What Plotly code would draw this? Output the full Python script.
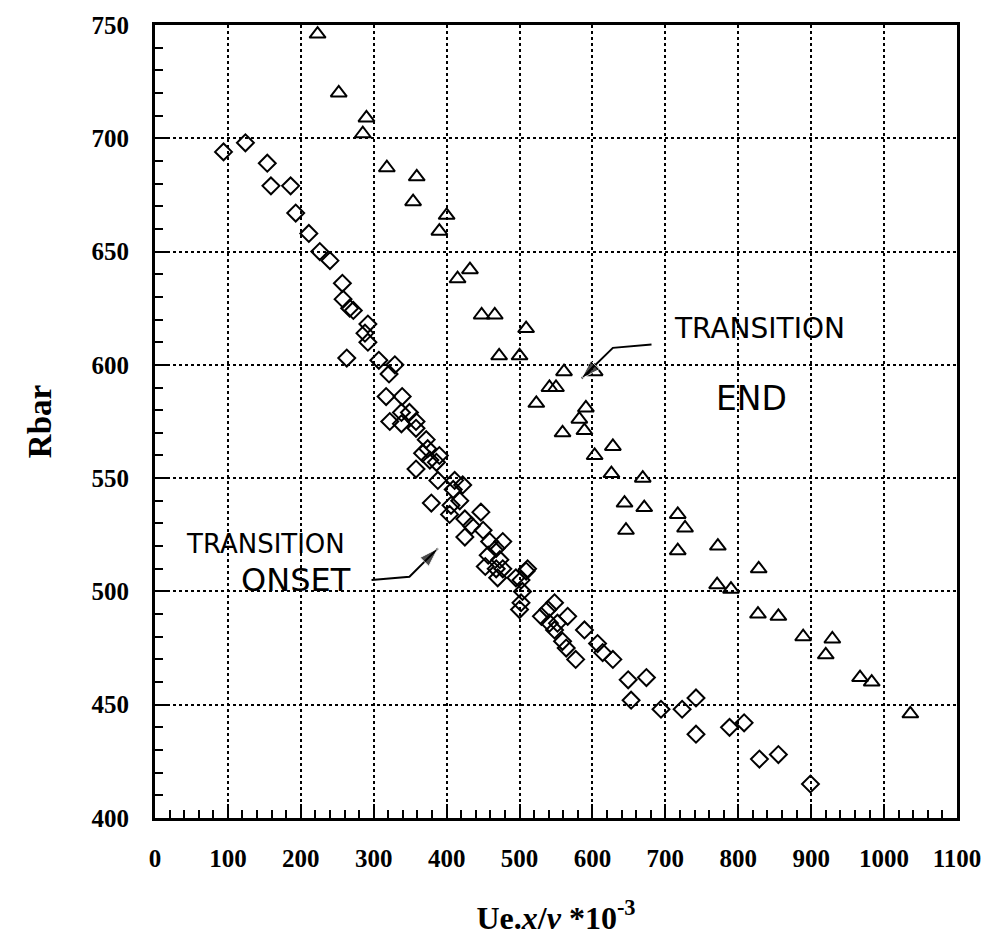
import plotly.graph_objects as go

# Transition onset (open diamonds)
onset_x = [94, 124, 154, 159, 186, 193, 211, 226, 240, 257, 258, 267, 272, 292, 288, 292,
           263, 307, 329, 321, 317, 339, 338, 349, 322, 338, 358, 358, 372, 374, 367, 390,
           377, 386, 358, 388, 379, 411, 422, 409, 418, 406, 404, 425, 447, 434, 425, 450,
           459, 477, 468, 457, 473, 453, 468, 477, 511, 470, 495, 509, 502, 504, 502, 500,
           530, 539, 548, 541, 548, 559, 564, 566, 552, 577, 589, 607, 614, 628, 649, 674,
           653, 694, 723, 742, 742, 788, 808, 829, 855, 899]
onset_y = [694, 698, 689, 679, 679, 667, 658, 650, 646, 636, 629, 625, 624, 618, 614, 610,
           603, 602, 600, 596, 586, 586, 579, 579, 575, 574, 575, 572, 567, 563, 561, 560,
           558, 557, 554, 549, 539, 549, 547, 545, 540, 538, 534, 532, 535, 529, 524, 527,
           522, 522, 519, 516, 514, 511, 510, 510, 510, 506, 506, 509, 505, 500, 495, 492,
           489, 492, 495, 486, 483, 478, 475, 489, 486, 470, 483, 477, 473, 470, 461, 462,
           452, 448, 448, 453, 437, 440, 442, 426, 428, 415]

# Transition end (open triangles)
end_x = [223, 252, 290, 285, 318, 359, 354, 400, 390, 432, 415, 448, 466, 509, 472, 500,
         561, 541, 550, 523, 603, 591, 582, 559, 589, 628, 603, 626, 669, 644, 671, 646,
         717, 727, 717, 772, 828, 771, 790, 827, 855, 889, 929, 920, 967, 983, 1036]
end_y = [746, 720, 709, 702, 687, 683, 672, 666, 659, 642, 638, 622, 622, 616, 604, 604,
         597, 590, 590, 583, 597, 581, 576, 570, 571, 564, 560, 552, 550, 539, 537, 527,
         534, 528, 518, 520, 510, 503, 501, 490, 489, 480, 479, 472, 462, 460, 446]

x_ticks = list(range(0, 1101, 100))
y_ticks = list(range(400, 751, 50))

# hand-drawn arrow paths (data coordinates)
onset_arrow_x = [297, 349, 388]
onset_arrow_y = [505, 506.5, 519]
end_arrow_x = [681, 628, 585]
end_arrow_y = [609, 607.5, 594]

fig = go.Figure()
fig.add_trace(go.Scatter(x=onset_x, y=onset_y, mode="markers", name="onset",
                         marker=dict(symbol="diamond-open", size=13, color="black",
                                     line=dict(width=2, color="black"))))
fig.add_trace(go.Scatter(x=end_x, y=end_y, mode="markers", name="end",
                         marker=dict(symbol="triangle-up-open", size=14, color="black",
                                     line=dict(width=2, color="black"))))
for ax_, ay_ in [(onset_arrow_x, onset_arrow_y), (end_arrow_x, end_arrow_y)]:
    fig.add_trace(go.Scatter(x=ax_, y=ay_, mode="lines+markers", hoverinfo="skip",
                             line=dict(color="black", width=2),
                             marker=dict(symbol="arrow", angleref="previous",
                                         size=[0, 0, 20], color="black")))

tick_font = dict(family="Liberation Serif", size=25, color="black")
fig.update_xaxes(range=[0, 1100], tickvals=x_ticks, ticktext=[f"<b>{v}</b>" for v in x_ticks],
                 showgrid=True, gridcolor="black", griddash="dot", gridwidth=1.5,
                 showline=True, linecolor="black", linewidth=3, mirror=True,
                 ticks="inside", ticklen=14, tickwidth=2, tickcolor="black",
                 minor=dict(dtick=20, ticks="inside", ticklen=8, tickwidth=1.5,
                            tickcolor="black", showgrid=False),
                 zeroline=False, tickfont=tick_font, ticklabelstandoff=16,
                 title=dict(text="<b>Ue.<i>x</i>/<i>ν</i> *10<sup>-3</sup></b>",
                            font=dict(family="Liberation Serif", size=32, color="black"),
                            standoff=36))
fig.update_yaxes(range=[400, 750], tickvals=y_ticks, ticktext=[f"<b>{v}</b>" for v in y_ticks],
                 showgrid=True, gridcolor="black", griddash="dot", gridwidth=1.5,
                 showline=True, linecolor="black", linewidth=3, mirror=True,
                 ticks="inside", ticklen=14, tickwidth=2, tickcolor="black",
                 minor=dict(dtick=10, ticks="inside", ticklen=8, tickwidth=1.5,
                            tickcolor="black", showgrid=False),
                 zeroline=False, tickfont=tick_font, ticklabelstandoff=18,
                 title=dict(text="<b>Rbar</b>",
                            font=dict(family="Liberation Serif", size=33, color="black"),
                            standoff=30))

fig.add_annotation(x=152, y=521, text="TRANSITION", showarrow=False,
                   font=dict(family="DejaVu Sans", size=26, color="black"))
fig.add_annotation(x=193, y=505, text="ONSET", showarrow=False,
                   font=dict(family="DejaVu Sans", size=32, color="black"))
fig.add_annotation(x=829, y=616, text="TRANSITION", showarrow=False,
                   font=dict(family="DejaVu Sans", size=28, color="black"))
fig.add_annotation(x=818, y=585, text="END", showarrow=False,
                   font=dict(family="DejaVu Sans", size=33, color="black"))

fig.update_layout(width=996, height=952, showlegend=False,
                  plot_bgcolor="white", paper_bgcolor="white",
                  margin=dict(l=155, r=39, t=19, b=134))
fig.write_html("out.html")
